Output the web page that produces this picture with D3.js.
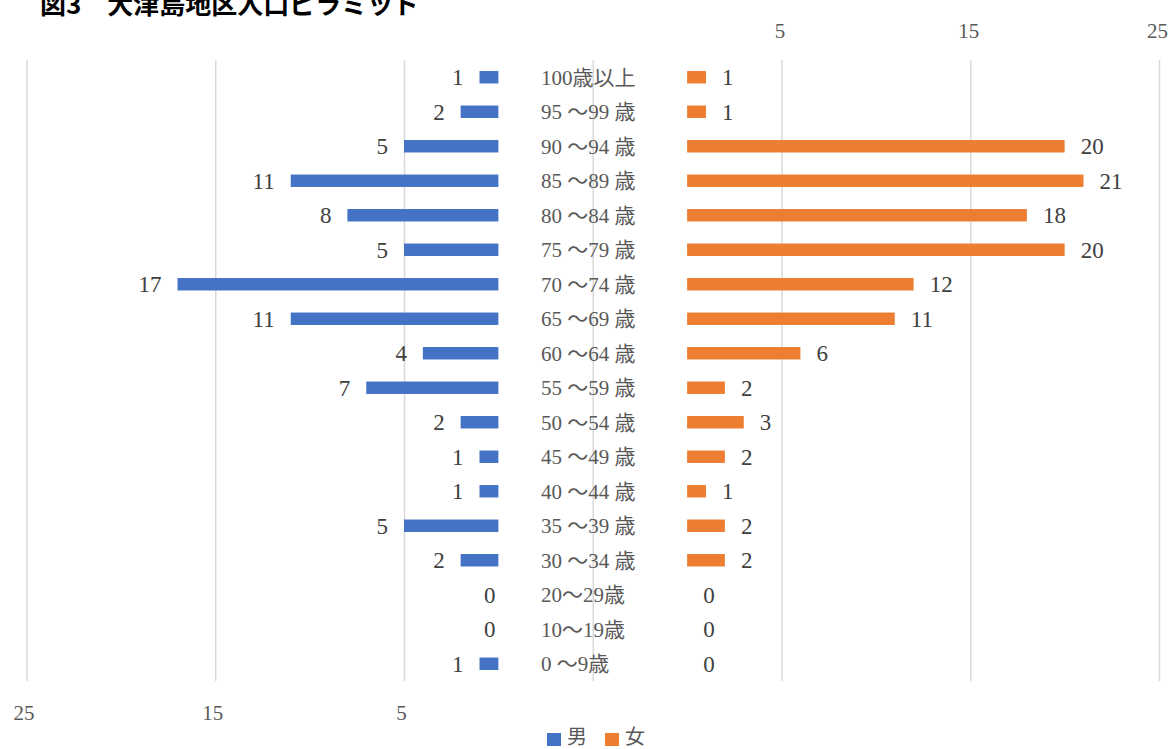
<!DOCTYPE html>
<html>
<head>
<meta charset="utf-8">
<title>図3 大津島地区人口ピラミッド</title>
<script src="https://cdn.jsdelivr.net/npm/d3@7"></script>
<style>
    body { margin: 0; background: #fff; }
    svg { display: block; }
    .num { font-family: "Liberation Serif", "Noto Sans CJK JP", serif; font-size: 23px; fill: #404040; }
    .cat { font-family: "Liberation Serif", "Noto Sans CJK JP", serif; font-size: 21px; fill: #595959; }
    .tick text { font-family: "Liberation Serif", serif; font-size: 21px; fill: #595959; }
    .grid line { stroke: #d9d9d9; stroke-width: 1.5px; }
    .grid .domain { display: none; }
</style>
</head>
<body>
<svg width="1172" height="749"></svg>
<script>
    // values, top row first
    const categories = ["100歳以上", "95 ～99 歳", "90 ～94 歳", "85 ～89 歳", "80 ～84 歳", "75 ～79 歳",
        "70 ～74 歳", "65 ～69 歳", "60 ～64 歳", "55 ～59 歳", "50 ～54 歳", "45 ～49 歳",
        "40 ～44 歳", "35 ～39 歳", "30 ～34 歳", "20～29歳", "10～19歳", "0 ～9歳"];
    const male   = [1, 2, 5, 11, 8, 5, 17, 11, 4, 7, 2, 1, 1, 5, 2, 0, 0, 1];
    const female = [1, 1, 20, 21, 18, 20, 12, 11, 6, 2, 3, 2, 1, 2, 2, 0, 0, 0];
    const gridTicks = [-35, -25, -15, -5, 5, 15, 25];
    const seriesNames = ["男", "女"];
    const colors = ["#4472C4", "#ED7D31"];

    const svg = d3.select("svg");
    const plotTop = 60, plotBottom = 681, plotLeft = 26.5, plotRight = 1159;

    // two overlapping axes, like the excel trick: male reversed, female normal
    const xm = d3.scaleLinear().domain([25, -35]).range([plotLeft, plotRight]);
    const xf = d3.scaleLinear().domain([-35, 25]).range([plotLeft, plotRight]);
    const y = d3.scaleBand().domain(categories).range([plotTop, plotBottom])
        .paddingInner(0.64).paddingOuter(0.32);

    const fmt = d => d > 0 ? d : "";

    // grid + top labels (female axis)
    svg.append("g").attr("class", "grid")
        .attr("transform", `translate(0,${plotTop})`)
        .call(d3.axisTop(xf).tickValues(gridTicks).tickSize(-(plotBottom - plotTop)).tickFormat(fmt).tickPadding(22))
        .call(g => g.selectAll(".tick text").attr("dx", -2));

    // bottom labels (male axis)
    svg.append("g").attr("class", "grid")
        .attr("transform", `translate(0,${plotBottom})`)
        .call(d3.axisBottom(xm).tickValues(gridTicks).tickSize(0).tickFormat(fmt).tickPadding(24))
        .call(g => g.selectAll(".tick text").attr("dx", -3));

    const rows = categories.map((c, i) => ({ c, m: male[i], f: female[i] }));

    // male bars
    svg.append("g").selectAll("rect").data(rows).join("rect")
        .attr("x", d => xm(d.m))
        .attr("y", d => y(d.c))
        .attr("width", d => xm(0) - xm(d.m))
        .attr("height", y.bandwidth())
        .attr("fill", colors[0]);

    // female bars
    svg.append("g").selectAll("rect").data(rows).join("rect")
        .attr("x", xf(0))
        .attr("y", d => y(d.c))
        .attr("width", d => xf(d.f) - xf(0))
        .attr("height", y.bandwidth())
        .attr("fill", colors[1]);

    const cy = d => y(d.c) + y.bandwidth() / 2;

    svg.append("g").selectAll("text").data(rows).join("text")
        .attr("class", "num")
        .attr("text-anchor", "end")
        .attr("x", d => d.m === 0 ? xm(0) - 3 : xm(d.m) - 16)
        .attr("y", cy).attr("dy", "0.35em")
        .text(d => d.m);

    svg.append("g").selectAll("text").data(rows).join("text")
        .attr("class", "num")
        .attr("x", d => xf(d.f) + 16)
        .attr("y", cy).attr("dy", "0.35em")
        .text(d => d.f);

    // category labels in the middle
    svg.append("g").selectAll("text").data(rows).join("text")
        .attr("class", "cat")
        .attr("x", 541)
        .attr("y", cy).attr("dy", "0.35em")
        .text(d => d.c);

    // title (partly cut off at the top, as in the original)
    svg.append("text")
        .attr("x", 40).attr("y", 14)
        .style("font-family", "'Noto Sans CJK JP', sans-serif")
        .style("font-weight", "bold")
        .style("font-size", "26px")
        .attr("fill", "#000")
        .text("図3　大津島地区人口ピラミッド");

    // legend
    const lg = svg.append("g").attr("transform", "translate(547,733)");
    seriesNames.forEach((n, i) => {
        const g = lg.append("g").attr("transform", `translate(${i * 58},0)`);
        g.append("rect").attr("width", 14).attr("height", 13).attr("fill", colors[i]);
        g.append("text").attr("class", "cat").attr("x", 20).attr("y", 4).attr("dy", "0.35em")
            .style("font-size", "20px").text(n);
    });
</script>
</body>
</html>
